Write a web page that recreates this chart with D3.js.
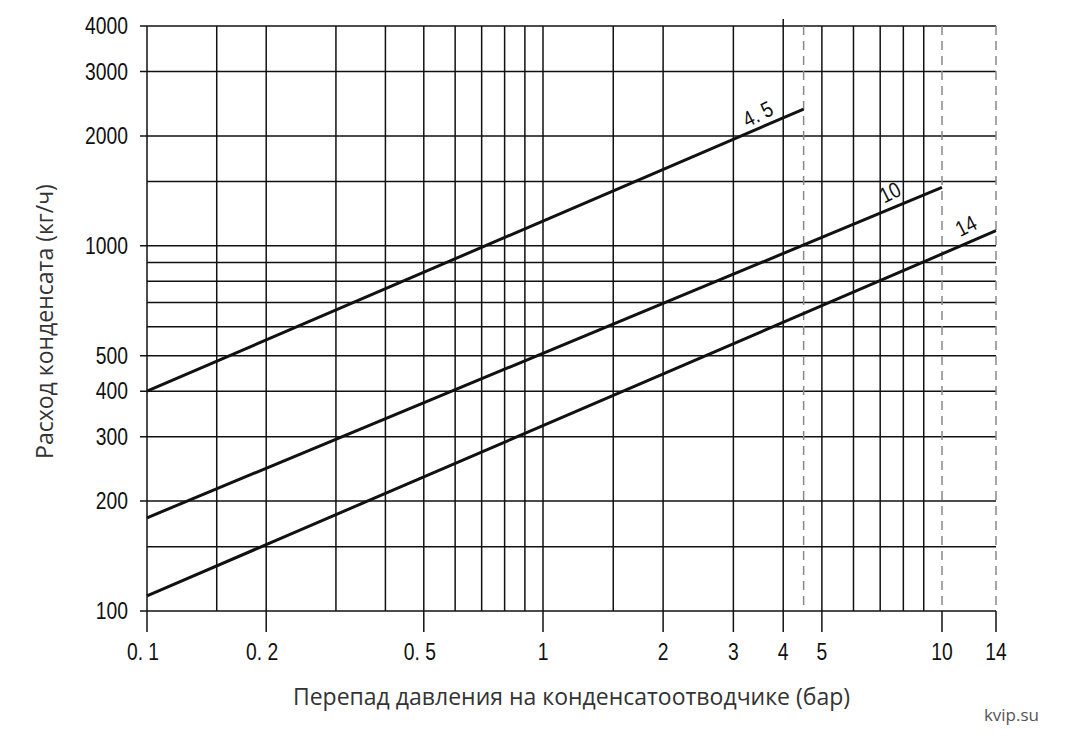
<!DOCTYPE html>
<html>
<head>
<meta charset="utf-8">
<script src="https://cdn.jsdelivr.net/npm/d3@7/dist/d3.min.js"></script>
<style>
  body { margin: 0; background: #fff; }
  svg { display: block; }
  .tick-label { font-family: 'Liberation Sans', Arial, sans-serif; font-size: 23px; fill: #111; }
  .axis-title { font-family: 'Open Sans', sans-serif; font-size: 23px; fill: #333; }
</style>
</head>
<body>
<div id="chart"></div>
<script>
// Axis ticks (labelled) and grid lines
const xTicks = [0.1, 0.2, 0.5, 1, 2, 3, 4, 5, 10, 14];
const xTickLabels = ['0. 1', '0. 2', '0. 5', '1', '2', '3', '4', '5', '10', '14'];
const xGrid = [0.1, 0.15, 0.2, 0.3, 0.4, 0.5, 0.6, 0.7, 0.8, 0.9, 1, 1.5, 2, 3, 4, 5, 6, 7, 8, 9];
const xDashed = [4.5, 10, 14];

const yTicks = [100, 200, 300, 400, 500, 1000, 2000, 3000, 4000];
const yGrid = [100, 150, 200, 300, 400, 500, 600, 700, 800, 900, 1000, 1500, 2000, 3000, 4000];

// Curves: pressure drop (bar) vs condensate flow (kg/h), one per trap size
const seriesNames = ['4. 5', '10', '14'];
const seriesX = [[0.1, 4.5], [0.1, 10], [0.1, 14]];
const seriesY = [[400, 2370], [180, 1445], [110, 1100]];
// where along each curve (in bar) its name is written
const labelAt = [3.45, 7.4, 11.6];

let width = 1071, height = 748;
let margin = {left: 147, right: 75, top: 26, bottom: 137};
let narrow = 0.84; // horizontal squeeze to get a narrow face

let svg = d3.select('#chart')
.append('svg')
.attr('width', width)
.attr('height', height);

// the printed scale is a hand-drawn log scale, so pin it at the decades
let x = d3.scaleLog()
.domain([0.1, 1, 10, 14])
.range([margin.left, 543, 942, width - margin.right]);

let y = d3.scaleLog()
.domain([100, 4000])
.range([height - margin.bottom, margin.top]);

let x0 = x.range()[0], x1 = x.range()[3];
let y0 = y.range()[0], y1 = y.range()[1];

// horizontal grid
svg.append('g')
.selectAll('line')
.data(yGrid)
.enter()
.append('line')
.attr('x1', d => yTicks.includes(d) ? x0 - 7 : x0)
.attr('x2', x1)
.attr('y1', d => y(d))
.attr('y2', d => y(d))
.attr('stroke', '#111')
.attr('stroke-width', 1.5);

// vertical grid (solid)
svg.append('g')
.selectAll('line')
.data(xGrid)
.enter()
.append('line')
.attr('x1', d => x(d))
.attr('x2', d => x(d))
.attr('y1', d => d === 4 ? y1 - 7 : y1)
.attr('y2', d => xTicks.includes(d) ? y0 + 21 : y0)
.attr('stroke', '#111')
.attr('stroke-width', 1.5);

// vertical dashed lines at range limits
svg.append('g')
.selectAll('line')
.data(xDashed)
.enter()
.append('line')
.attr('x1', d => x(d))
.attr('x2', d => x(d))
.attr('y1', y1)
.attr('y2', y0)
.attr('stroke', '#888')
.attr('stroke-width', 1.5)
.attr('stroke-dasharray', '9,6');

// solid tick stubs under dashed lines that carry a label
svg.append('g')
.selectAll('line')
.data(xDashed.filter(d => xTicks.includes(d)))
.enter()
.append('line')
.attr('x1', d => x(d))
.attr('x2', d => x(d))
.attr('y1', y0)
.attr('y2', y0 + 21)
.attr('stroke', '#111')
.attr('stroke-width', 1.5);

// tick labels
svg.append('g')
.selectAll('text')
.data(yTicks)
.enter()
.append('text')
.attr('class', 'tick-label')
.attr('transform', d => 'translate(' + (x0 - 19) + ',' + y(d) + ') scale(' + narrow + ',1)')
.attr('dy', '0.36em')
.attr('text-anchor', 'end')
.text(d => d);

svg.append('g')
.selectAll('text')
.data(xTicks)
.enter()
.append('text')
.attr('class', 'tick-label')
.attr('transform', (d, i) => 'translate(' + (x(d) - (i < 3 ? 4 : 0)) + ',' + (y0 + 49) + ') scale(' + narrow + ',1)')
.attr('text-anchor', 'middle')
.text((d, i) => xTickLabels[i]);

// curves
let line = d3.line()
.x(d => x(d[0]))
.y(d => y(d[1]));

seriesNames.forEach(function(name, i) {
  let pts = seriesX[i].map((v, j) => [v, seriesY[i][j]]);
  svg.append('path')
  .attr('d', line(pts))
  .attr('fill', 'none')
  .attr('stroke', '#111')
  .attr('stroke-width', 3);

  // straight in log-log: interpolate the value at the label position
  let lx = labelAt[i];
  let t = Math.log(lx / pts[0][0]) / Math.log(pts[1][0] / pts[0][0]);
  let ly = pts[0][1] * Math.pow(pts[1][1] / pts[0][1], t);
  svg.append('text')
  .attr('class', 'tick-label')
  .attr('transform', 'translate(' + x(lx) + ',' + (y(ly) - 15 - i * 2) + ') rotate(-27) scale(' + narrow + ',1)')
  .attr('text-anchor', 'middle')
  .attr('dy', '0.36em')
  .style('font-size', '22px')
  .text(name);
});

// axis titles
svg.append('text')
.attr('class', 'axis-title')
.attr('transform', 'translate(53,' + ((y0 + y1) / 2 + 3) + ') rotate(-90)')
.attr('text-anchor', 'middle')
.text('Расход конденсата (кг/ч)');

svg.append('text')
.attr('class', 'axis-title')
.attr('x', (x0 + x1) / 2)
.attr('y', 705)
.attr('text-anchor', 'middle')
.text('Перепад давления на конденсатоотводчике (бар)');

svg.append('text')
.attr('x', 1039)
.attr('y', 721)
.attr('text-anchor', 'end')
.style('font-family', "'Open Sans', sans-serif")
.style('font-size', '17px')
.style('fill', '#555')
.text('kvip.su');
</script>
</body>
</html>
